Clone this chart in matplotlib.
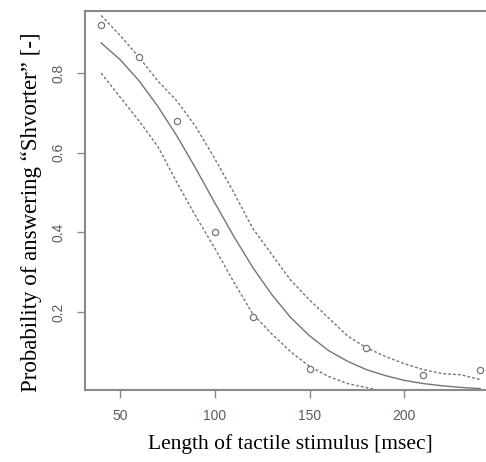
import matplotlib
matplotlib.use("Agg")
import matplotlib.pyplot as plt

# observed proportions
stim_len = [40, 60, 80, 100, 120, 150, 180, 210, 240]
p_short = [0.92, 0.84, 0.68, 0.40, 0.187, 0.057, 0.11, 0.042, 0.054]

# fitted curve and band
x_fit = [40, 50, 60, 70, 80, 90, 100, 110, 120, 130, 140, 150, 160, 170, 180, 190, 200, 210, 220, 230, 240]
p_fit = [0.876, 0.834, 0.781, 0.716, 0.642, 0.560, 0.474, 0.390, 0.312, 0.244, 0.186, 0.140, 0.103,
         0.076, 0.055, 0.040, 0.028, 0.020, 0.0145, 0.0103, 0.0074]
p_upper = [0.945, 0.895, 0.84, 0.78, 0.73, 0.665, 0.585, 0.50, 0.41, 0.345, 0.28, 0.23, 0.185,
           0.14, 0.11, 0.088, 0.07, 0.055, 0.045, 0.042, 0.03]
p_lower = [0.80, 0.74, 0.68, 0.615, 0.525, 0.44, 0.36, 0.275, 0.195, 0.145, 0.10, 0.063, 0.038,
           0.02, 0.01, 0.0, 0.0, 0.0, 0.0, 0.0, 0.0]

grey = "#757575"

fig = plt.figure(figsize=(4.86, 4.62), dpi=100)
ax = fig.add_axes([0.175, 0.156, 0.844, 0.820])

ax.plot(x_fit, p_fit, color=grey, lw=1.0)
ax.plot(x_fit, p_upper, color=grey, lw=1.0, linestyle=(0, (2, 1.5)))
ax.plot(x_fit, p_lower, color=grey, lw=1.0, linestyle=(0, (2, 1.5)))
ax.plot(stim_len, p_short, linestyle="none", marker="o", ms=4.5, mfc="white", mec=grey, mew=0.9)

ax.set_xlim(31.5, 248)
ax.set_ylim(0.004, 0.956)
ax.set_xticks([50, 100, 150, 200])
ax.set_yticks([0.2, 0.4, 0.6, 0.8])
ax.set_yticklabels(["0.2", "0.4", "0.6", "0.8"], rotation=90, va="center")

for s in ax.spines.values():
    s.set_color("#8a8a8a")
    s.set_linewidth(1.5)
ax.tick_params(colors="#8a8a8a", labelcolor="#5a5a70", length=6, width=1, labelsize=10, pad=8)
for t in ax.get_xticklabels() + ax.get_yticklabels():
    t.set_family("Liberation Sans")

ax.set_xlabel("Length of tactile stimulus [msec]", family="Liberation Serif", fontsize=15.5, labelpad=8)
ax.set_ylabel("Probability of answering \u201cShvorter\u201d [-]", family="Liberation Serif", fontsize=16.5)
ax.yaxis.set_label_coords(-0.105, 0.47)

fig.savefig("out.png", dpi=100)
